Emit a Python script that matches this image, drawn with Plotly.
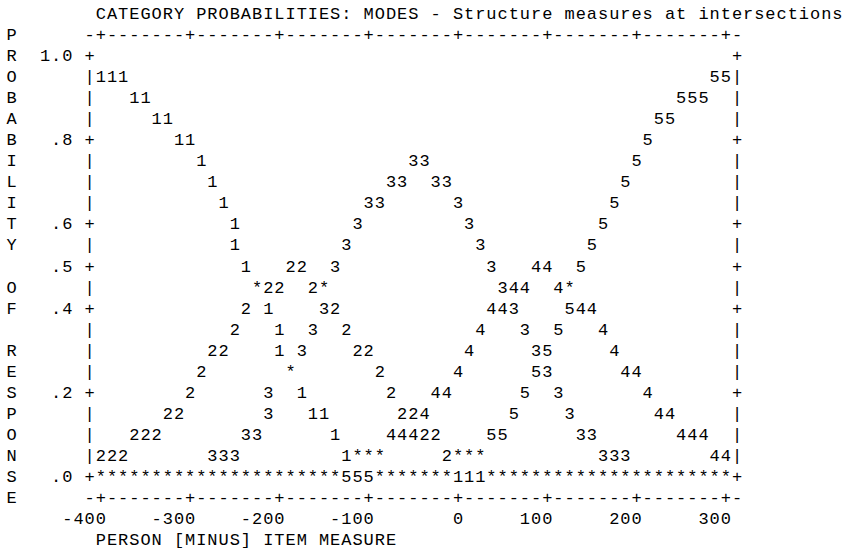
import plotly.graph_objects as go

# ---------------- data ----------------
title_text = "CATEGORY PROBABILITIES: MODES - Structure measures at intersections"
x_title = "PERSON [MINUS] ITEM MEASURE"
y_title = "PROBABILITY OF RESPONSE"          # stacked vertically, one letter per row
x_ticks = [-400, -300, -200, -100, 0, 100, 200, 300]
x_tick_labels = ["-400", "-300", "-200", "-100", "0", "100", "200", "300"]
y_ticks = [1.0, 0.8, 0.6, 0.5, 0.4, 0.2, 0.0]
y_tick_labels = ["1.0", ".8", ".6", ".5", ".4", ".2", ".0"]

# category curves: measure (x) and probability (p) of each plotted digit
cat1_x = [-400, -387.5, -375, -362.5, -350, -337.5, -325, -312.5, -300, -287.5, -275,
          -262.5, -250, -250, -237.5, -212.5, -200, -200, -175, -162.5, -150, -137.5,
          -125, 0, 12.5, 25]
cat1_p = [.95, .95, .95, .90, .90, .85, .85, .80, .80, .75, .70,
          .65, .60, .55, .50, .40, .35, .30, .20, .15, .15, .10,
          .05, 0, 0, 0]

cat2_x = [-400, -387.5, -375, -362.5, -350, -337.5, -325, -312.5, -300, -287.5, -275,
          -262.5, -250, -237.5, -212.5, -200, -187.5, -175, -162.5, -137.5, -125,
          -112.5, -100, -87.5, -75, -62.5, -50, -37.5, -25, -12.5]
cat2_p = [.05, .05, .05, .10, .10, .10, .15, .15, .20, .25, .30,
          .30, .35, .40, .45, .45, .50, .50, .45, .40, .35,
          .30, .30, .25, .20, .15, .15, .10, .10, .05]

cat3_x = [-275, -262.5, -250, -237.5, -225, -212.5, -212.5, -175, -162.5, -150, -137.5,
          -125, -112.5, -100, -87.5, -75, -62.5, -50, -37.5, -25, -12.5, 0, 12.5, 25,
          37.5, 50, 62.5, 75, 87.5, 100, 112.5, 125, 137.5, 150, 162.5, 175, 187.5]
cat3_p = [.05, .05, .05, .10, .10, .15, .20, .30, .35, .40, .50,
          .55, .60, .65, .65, .70, .70, .75, .75, .70, .70, .65, .60, .55,
          .50, .45, .40, .35, .30, .25, .20, .15, .10, .10, .05, .05, .05]

cat4_x = [-75, -62.5, -50, -37.5, -25, -12.5, 0, 12.5, 25, 37.5, 50, 62.5, 75, 87.5, 100,
          112.5, 137.5, 150, 162.5, 175, 187.5, 200, 212.5, 225, 237.5, 250, 262.5, 275,
          287.5, 300]
cat4_p = [.10, .10, .10, .15, .20, .20, .25, .30, .35, .40, .40, .45, .45, .50, .50,
          .45, .40, .40, .35, .30, .25, .25, .20, .15, .15, .10, .10, .10,
          .05, .05]

cat5_x = [-125, -112.5, -100, 37.5, 50, 62.5, 75, 87.5, 100, 112.5, 125, 137.5, 150,
          162.5, 175, 187.5, 200, 212.5, 225, 237.5, 250, 262.5, 275, 287.5, 300]
cat5_p = [0, 0, 0, .10, .10, .15, .20, .25, .30, .35, .40, .50, .55,
          .60, .65, .70, .75, .80, .85, .85, .90, .90, .90, .95, .95]

# cells where several categories coincide ("*")
star_x = [-225, -150, 125, -187.5, -112.5, -100, -87.5, 0, 12.5, 25,
          -400, -387.5, -375, -362.5, -350, -337.5, -325, -312.5, -300, -287.5, -275,
          -262.5, -250, -237.5, -225, -212.5, -200, -187.5, -175, -162.5, -150, -137.5,
          -87.5, -75, -62.5, -50, -37.5, -25, -12.5,
          37.5, 50, 62.5, 75, 87.5, 100, 112.5, 125, 137.5, 150, 162.5, 175, 187.5,
          200, 212.5, 225, 237.5, 250, 262.5, 275, 287.5, 300]
star_p = [.45, .45, .45, .25, .05, .05, .05, .05, .05, .05,
          0, 0, 0, 0, 0, 0, 0, 0, 0, 0, 0,
          0, 0, 0, 0, 0, 0, 0, 0, 0, 0, 0,
          0, 0, 0, 0, 0, 0, 0,
          0, 0, 0, 0, 0, 0, 0, 0, 0, 0, 0, 0, 0,
          0, 0, 0, 0, 0, 0, 0, 0, 0]

# ---------------- character grid of the text plot ----------------
COL = 12.5    # measure units per character column
ROW = 0.05    # probability units per text row
FONT = dict(family="Liberation Mono, Courier New, monospace", size=17, color="#000000")

x_left = x_ticks[0] - COL
x_right = x_ticks[-1] + COL
p_top = max(y_ticks)
p_bot = min(y_ticks)

def text_run(s, x_start, p):
    xs, ps, cs = [], [], []
    for i, ch in enumerate(s):
        if ch != " ":
            xs.append(x_start + i * COL)
            ps.append(p)
            cs.append(ch)
    return xs, ps, cs

fx, fp, fc = [], [], []
def add(run):
    fx.extend(run[0]); fp.extend(run[1]); fc.extend(run[2])

# horizontal frame lines (top and bottom)
n_cols = int(round((x_right - x_left) / COL)) + 1
tick_idx = {int(round((t - x_left) / COL)) for t in x_ticks}
frame_line = "".join("+" if i in tick_idx else "-" for i in range(n_cols))
add(text_run(frame_line, x_left, p_top + ROW))
add(text_run(frame_line, x_left, p_bot - ROW))

# vertical frame sides
n_rows = int(round((p_top - p_bot) / ROW)) + 1
ytick_idx = {int(round((p_top - t) / ROW)) for t in y_ticks}
for j in range(n_rows):
    ch = "+" if j in ytick_idx else "|"
    pr = p_top - j * ROW
    add(text_run(ch, x_left, pr))
    add(text_run(ch, x_right, pr))

# y tick labels (right aligned two columns left of the axis)
for t, lab in zip(y_ticks, y_tick_labels):
    add(text_run(lab, x_left - (len(lab) + 1) * COL, t))

# x tick labels (right aligned on their tick column)
for t, lab in zip(x_ticks, x_tick_labels):
    add(text_run(lab, t - (len(lab) - 1) * COL, p_bot - 2 * ROW))

# titles
add(text_run(title_text, x_ticks[0], p_top + 2 * ROW))
add(text_run(x_title, x_ticks[0], p_bot - 3 * ROW))
y_title_col = x_left - 7 * COL
for j, ch in enumerate(y_title):
    add(text_run(ch, y_title_col, p_top + ROW - j * ROW))

fig = go.Figure()
common = dict(mode="text", textposition="middle center", textfont=FONT,
              hoverinfo="skip", showlegend=False, cliponaxis=False)
fig.add_trace(go.Scatter(x=fx, y=fp, text=fc, **common))
for xs, ps, lab in [(cat1_x, cat1_p, "1"), (cat2_x, cat2_p, "2"), (cat3_x, cat3_p, "3"),
                    (cat4_x, cat4_p, "4"), (cat5_x, cat5_p, "5"), (star_x, star_p, "*")]:
    fig.add_trace(go.Scatter(x=xs, y=ps, text=[lab] * len(xs), **common))

# pixel calibration: column pitch 11.16 px, row pitch 21.06 px
fig.update_layout(
    width=846, height=550,
    margin=dict(l=0, r=0, t=0, b=0),
    paper_bgcolor="white", plot_bgcolor="white",
    xaxis=dict(range=[-512.97, 434.6], visible=False, fixedrange=True),
    yaxis=dict(range=[-0.17118, 1.13462], visible=False, fixedrange=True),
)
fig.write_html("out.html",
               config={"displayModeBar": False, "staticPlot": True},
               post_script="document.body.style.margin='0';document.body.style.overflow='hidden';")
